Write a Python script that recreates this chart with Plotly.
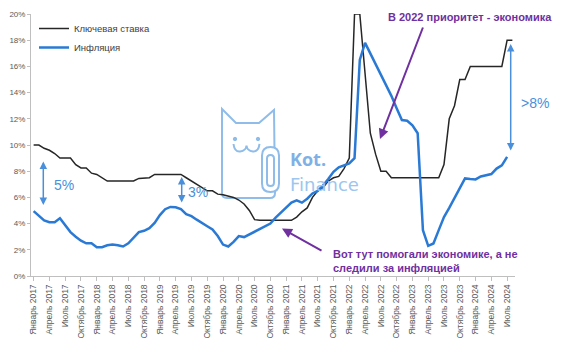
import plotly.graph_objects as go

month_names = ["Январь", "Февраль", "Март", "Апрель", "Май", "Июнь",
               "Июль", "Август", "Сентябрь", "Октябрь", "Ноябрь", "Декабрь"]
years = [2017, 2018, 2019, 2020, 2021, 2022, 2023, 2024]
categories = [f"{m} {y}" for y in years for m in month_names][:92]  # Jan 2017 .. Aug 2024
tick_labels = categories[::3]

key_rate = [
    10, 10, 9.75, 9.6, 9.35, 9.0, 9.0, 9.0, 8.5, 8.25,
    8.25, 7.85, 7.75, 7.5, 7.25, 7.25, 7.25, 7.25, 7.25, 7.25,
    7.45, 7.5, 7.5, 7.75, 7.75, 7.75, 7.75, 7.75, 7.75, 7.5,
    7.25, 7.0, 6.75, 6.5, 6.5, 6.25, 6.2, 6.1, 6.0, 5.8,
    5.5, 5.0, 4.3, 4.25, 4.25, 4.25, 4.25, 4.25, 4.25, 4.25,
    4.5, 4.9, 5.2, 6.0, 6.5, 6.75, 7.25, 7.5, 7.6, 8.2,
    9.0, 20, 20, 15.5, 10.9, 9.3, 8.0, 8.0, 7.5, 7.5,
    7.5, 7.5, 7.5, 7.5, 7.5, 7.5, 7.5, 7.5, 8.5, 12,
    13, 15, 15, 16, 16, 16, 16, 16, 16, 16,
    18, 18,
]

inflation = [
    4.95, 4.6, 4.25, 4.1, 4.1, 4.4, 3.9, 3.35, 3.0, 2.7,
    2.5, 2.5, 2.2, 2.2, 2.35, 2.4, 2.35, 2.25, 2.5, 2.95,
    3.35, 3.45, 3.65, 4.05, 4.65, 5.1, 5.27, 5.25, 5.1, 4.72,
    4.57, 4.3, 4.02, 3.8, 3.55, 3.05, 2.4, 2.25, 2.6, 3.05,
    2.97, 3.17, 3.4, 3.6, 3.75, 4.0, 4.45, 4.85, 5.25, 5.6,
    5.78, 5.6, 5.9, 6.3, 6.5, 6.9, 7.4, 7.95, 8.3, 8.47,
    8.6, 9.0, 16.5, 17.8, 17.0, 16.2, 15.4, 14.6, 13.75, 12.8,
    11.9, 11.85, 11.5, 10.9, 3.5, 2.3, 2.48, 3.5, 4.5, 5.2,
    5.95, 6.75, 7.45, 7.4, 7.37, 7.6, 7.7, 7.78, 8.2, 8.45,
    9.1, None,
]

# plot area in page pixels (the page body adds an 8px offset)
OFF = 8
L, R, T, B = 31, 515, 14, 276
PW, PH = 570, 359
W, H = PW - OFF, PH - OFF


def X(px):
    return (px - L) / (R - L)


def Y(py):
    return (B - py) / (B - T)


def path(points_cmds):
    out = []
    for item in points_cmds:
        if isinstance(item, str):
            out.append(item)
        else:
            out.append(f"{X(item[0]):.5f},{Y(item[1]):.5f}")
    return " ".join(out)


def rounded_rect(x0, y0, x1, y1, r):
    return path(["M", (x0 + r, y0), "L", (x1 - r, y0), "Q", (x1, y0), (x1, y0 + r),
                 "L", (x1, y1 - r), "Q", (x1, y1), (x1 - r, y1),
                 "L", (x0 + r, y1), "Q", (x0, y1), (x0, y1 - r),
                 "L", (x0, y0 + r), "Q", (x0, y0), (x0 + r, y0), "Z"])


fig = go.Figure()
fig.add_trace(go.Scatter(x=categories, y=key_rate, mode="lines", name="Ключевая ставка",
                         line=dict(color="#262626", width=1.5)))
fig.add_trace(go.Scatter(x=categories, y=inflation, mode="lines", name="Инфляция",
                         line=dict(color="#2a7ad5", width=2.5)))

wm = "#8fbce9"
shapes = []
# cat body
shapes.append(dict(type="path", xref="x domain", yref="y domain",
                   path=path(["M", (222, 109), "L", (236, 123), "L", (259, 123), "L", (274, 110),
                              "L", (275, 193), "Q", (275, 198), (270, 198),
                              "L", (227, 198), "Q", (222, 198), (222, 193), "Z"]),
                   line=dict(color=wm, width=2), layer="below"))
# paperclip
shapes.append(dict(type="path", xref="x domain", yref="y domain",
                   path=rounded_rect(262, 147, 279, 192, 8.5),
                   line=dict(color=wm, width=2), fillcolor="white", layer="below"))
shapes.append(dict(type="path", xref="x domain", yref="y domain",
                   path=rounded_rect(267, 155, 274, 186, 3.5),
                   line=dict(color=wm, width=2), layer="below"))
# eyes
for ex in (235, 258):
    shapes.append(dict(type="circle", xref="x domain", yref="y domain",
                       x0=X(ex - 1.7), x1=X(ex + 1.7), y0=Y(139 - 1.7), y1=Y(139 + 1.7),
                       line=dict(color=wm, width=1), fillcolor=wm, layer="below"))
# mouth
shapes.append(dict(type="path", xref="x domain", yref="y domain",
                   path=path(["M", (233.5, 144), "Q", (234.5, 152), (240, 151.5),
                              "Q", (246, 151), (246.5, 145.5), "Q", (247, 151), (253, 151.5),
                              "Q", (258.5, 152), (259.5, 144)]),
                   line=dict(color=wm, width=2), layer="below"))

blue_ann = "#4a8fdb"
purple = "#7030a0"
annotations = [
    # watermark text
    dict(xref="x domain", yref="y domain", x=X(288), y=Y(159), text="<b>Kot.</b>",
         showarrow=False, xanchor="left", yanchor="middle",
         font=dict(family="Open Sans", size=18, color="#7fb1e6")),
    dict(xref="x domain", yref="y domain", x=X(288), y=Y(184), text="Finance",
         showarrow=False, xanchor="left", yanchor="middle",
         font=dict(family="DejaVu Sans", size=18, color="#9cc6ef")),
    # double arrows
    dict(xref="x domain", yref="y domain", axref="x domain", ayref="y domain",
         x=X(43.3), y=Y(161.5), ax=X(43.3), ay=Y(206.5), text="", showarrow=True,
         arrowside="end+start", arrowhead=2, arrowsize=1, arrowwidth=1.5, arrowcolor=blue_ann),
    dict(xref="x domain", yref="y domain", x=X(52), y=Y(185), text="5%", showarrow=False,
         xanchor="left", yanchor="middle", font=dict(family="Liberation Sans", size=14, color=blue_ann)),
    dict(xref="x domain", yref="y domain", axref="x domain", ayref="y domain",
         x=X(181.7), y=Y(177), ax=X(181.7), ay=Y(204), text="", showarrow=True,
         arrowside="end+start", arrowhead=2, arrowsize=1, arrowwidth=1.5, arrowcolor=blue_ann),
    dict(xref="x domain", yref="y domain", x=X(186), y=Y(192), text="3%", showarrow=False,
         xanchor="left", yanchor="middle", font=dict(family="Liberation Sans", size=14, color=blue_ann)),
    dict(xref="x domain", yref="y domain", axref="x domain", ayref="y domain",
         x=X(510.7), y=Y(44), ax=X(510.7), ay=Y(152), text="", showarrow=True,
         arrowside="end+start", arrowhead=2, arrowsize=1, arrowwidth=1.5, arrowcolor=blue_ann),
    dict(xref="x domain", yref="y domain", x=X(519), y=Y(103), text=">8%", showarrow=False,
         xanchor="left", yanchor="middle", font=dict(family="Liberation Sans", size=14, color=blue_ann)),
    # purple comments
    dict(xref="x domain", yref="y domain", x=X(470), y=Y(17),
         text="<b>В 2022 приоритет - экономика</b>", showarrow=False,
         xanchor="center", yanchor="middle", font=dict(family="Liberation Sans", size=11, color=purple)),
    dict(xref="x domain", yref="y domain", axref="x domain", ayref="y domain",
         x=X(380), y=Y(139), ax=X(423.5), ay=Y(26), text="", showarrow=True,
         arrowhead=2, arrowsize=1, arrowwidth=2, arrowcolor=purple),
    dict(xref="x domain", yref="y domain", x=X(331), y=Y(261.2),
         text="<b>Вот тут помогали экономике, а не<br>следили за инфляцией</b>", showarrow=False,
         xanchor="left", yanchor="middle", align="left",
         font=dict(family="Liberation Sans", size=11, color=purple)),
    dict(xref="x domain", yref="y domain", axref="x domain", ayref="y domain",
         x=X(282), y=Y(228.5), ax=X(323), ay=Y(251.5), text="", showarrow=True,
         arrowhead=2, arrowsize=1, arrowwidth=2, arrowcolor=purple),
]

fig.update_layout(
    width=W, height=H,
    margin=dict(l=L - OFF, r=PW - R, t=T - OFF, b=PH - B),
    paper_bgcolor="white", plot_bgcolor="white",
    font=dict(family="Liberation Sans", size=9, color="#595959"),
    showlegend=True,
    legend=dict(x=X(34), y=Y(14), xanchor="left", yanchor="top",
                bgcolor="rgba(0,0,0,0)", font=dict(size=9.5, color="#404040"),
                tracegroupgap=0),
    shapes=shapes,
    annotations=annotations,
)
fig.update_xaxes(type="category", range=[-0.5, len(categories) - 0.5], automargin=False,
                 tickmode="array", tickvals=tick_labels, ticktext=tick_labels,
                 tickangle=-90, showline=True, linecolor="#bfbfbf", linewidth=1,
                 ticks="outside", ticklen=4, tickcolor="#bfbfbf",
                 showgrid=False, zeroline=False, tickfont=dict(size=8.5, color="#595959"))
fig.update_yaxes(range=[0, 20], dtick=2, ticksuffix="%", showline=True, linecolor="#bfbfbf",
                 automargin=False,
                 linewidth=1, ticks="outside", ticklen=3, tickcolor="#bfbfbf",
                 showgrid=False, zeroline=False, tickfont=dict(size=8, color="#595959"))

fig.write_html("out.html")
